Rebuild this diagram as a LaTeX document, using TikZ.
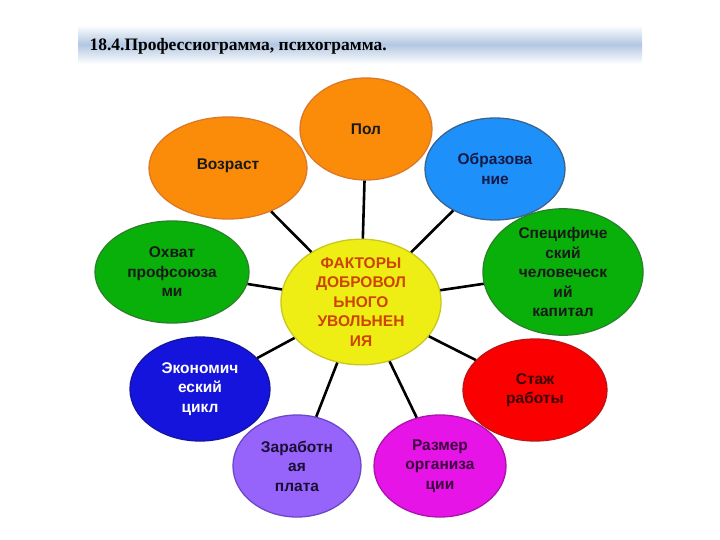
\documentclass[tikz,border=0pt]{standalone}
\usepackage{fontspec}
\setmainfont{Liberation Sans}
\newfontfamily\titlefont{Liberation Serif}
\usetikzlibrary{shapes.geometric}
\definecolor{hdr}{RGB}{178,199,226}
\definecolor{cyel}{RGB}{238,238,20}
\definecolor{cyelb}{RGB}{200,200,30}
\definecolor{ctxt}{RGB}{204,68,0}
\definecolor{corg}{RGB}{250,140,10}
\definecolor{corgb}{RGB}{220,120,40}
\definecolor{cblu}{RGB}{30,144,250}
\definecolor{cblub}{RGB}{60,100,140}
\definecolor{cgrn}{RGB}{10,176,10}
\definecolor{cgrnb}{RGB}{40,130,40}
\definecolor{cdblu}{RGB}{20,20,220}
\definecolor{cdblub}{RGB}{20,20,160}
\definecolor{cpur}{RGB}{150,100,250}
\definecolor{cpurb}{RGB}{110,70,200}
\definecolor{cmag}{RGB}{230,20,230}
\definecolor{cmagb}{RGB}{170,20,170}
\definecolor{cred}{RGB}{250,0,0}
\definecolor{credb}{RGB}{190,20,20}
\tikzset{
  oval/.style={ellipse, line width=1.3pt, inner sep=0pt, align=center,
    font=\fontsize{15.5}{19.5}\selectfont\bfseries, text=black!90},
  link/.style={line width=2.6pt, black}
}
\begin{document}
\begin{tikzpicture}[x=1pt,y=-1pt]
\useasboundingbox (0,0) rectangle (720,540);
\fill[white] (0,0) rectangle (720,540);
% header
\shade[top color=white, bottom color=white, middle color=hdr] (78,25) rectangle (642,64);
\node[anchor=west, font=\titlefont\fontsize{17.5}{20}\selectfont\bfseries] (title) at (86,46) {18.4.Профессиограмма, психограмма.};
% nodes
\node[oval, fill=cyel, draw=cyelb, minimum width=160, minimum height=104, text=ctxt] (c) at (361,302) {ФАКТОРЫ\\ДОБРОВОЛ\\ЬНОГО\\УВОЛЬНЕН\\ИЯ};
\node[oval, fill=corg, draw=corgb, minimum width=132, minimum height=102] (pol) at (366,129) {Пол};
\node[oval, fill=corg, draw=corgb, minimum width=158, minimum height=102] (voz) at (228,168) {\raisebox{7pt}{Возраст}};
\node[oval, fill=cblu, draw=cblub, minimum width=140, minimum height=102, text={rgb,255:red,20;green,25;blue,70}] (obr) at (495,169) {Образова\\ние};
\node[oval, fill=cgrn, draw=cgrnb, minimum width=160, minimum height=104] (spec) at (563,272) {Специфиче\\ский\\человеческ\\ий\\капитал};
\node[oval, fill=cgrn, draw=cgrnb, minimum width=154, minimum height=102] (ohv) at (172,272) {Охват\\профсоюза\\ми};
\node[oval, fill=cdblu, draw=cdblub, minimum width=140, minimum height=104, text=white] (eco) at (200,389) {Экономич\\еский\\цикл};
\node[oval, fill=cpur, draw=cpurb, minimum width=128, minimum height=102, text={rgb,255:red,25;green,15;blue,50}] (zar) at (297,466) {Заработн\\ая\\плата};
\node[oval, fill=cmag, draw=cmagb, minimum width=132, minimum height=102, text={rgb,255:red,60;green,0;blue,60}] (raz) at (440,466) {Размер\\организа\\ции};
\node[oval, fill=cred, draw=credb, minimum width=144, minimum height=102, text={rgb,255:red,60;green,0;blue,0}] (stazh) at (535,390) {Стаж\\работы};
% connectors
\foreach \n in {pol,voz,obr,spec,ohv,eco,zar,raz,stazh}
  \draw[link] (c) -- (\n);
\end{tikzpicture}
\end{document}
